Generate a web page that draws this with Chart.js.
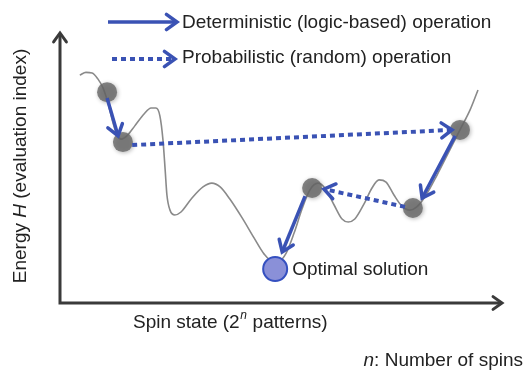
<!DOCTYPE html>
<html>
<head>
<meta charset="utf-8">
<script src="https://cdn.jsdelivr.net/npm/chart.js@4.4.0/dist/chart.umd.min.js"></script>
<style>
  html, body { margin: 0; padding: 0; background: #fff; }
</style>
</head>
<body>
<canvas id="landscape" width="531" height="372"></canvas>
<script>
// エネルギー地形 (スピン状態 0-100, エネルギー 0-100)
const landscapeX = [4.5, 5.9, 7.3, 8.6, 9.8, 10.9, 12.0, 12.95, 13.9, 15.2, 17.0, 19.1, 20.7, 21.8, 22.7, 23.4, 23.9, 24.3, 25.0, 26.1, 27.5, 30.0, 32.5, 34.5, 36.4, 38.6, 41.4, 44.1, 46.4, 48.2, 49.8, 51.4, 53.2, 55.0, 56.8, 58.6, 60.2, 62.3, 64.1, 65.5, 67.0, 69.1, 70.9, 72.5, 74.1, 75.9, 77.7, 79.5, 81.1, 83.2, 85.7, 88.6, 90.9, 93.2, 95.0];
const landscapeY = [84.4, 85.4, 85.2, 83.0, 79.6, 74.1, 67.0, 62.2, 60.7, 61.9, 65.6, 70.0, 72.2, 72.2, 69.3, 60.4, 49.3, 40.0, 34.4, 32.6, 33.7, 38.9, 43.0, 44.4, 43.0, 38.5, 31.5, 24.1, 18.1, 15.6, 15.6, 18.5, 25.9, 34.8, 41.9, 44.4, 42.6, 36.3, 31.1, 30.0, 31.1, 36.7, 42.6, 45.6, 44.8, 40.0, 35.9, 34.4, 35.6, 40.0, 47.4, 56.7, 64.1, 71.5, 78.9];

// 探索途中の状態 (灰色の点)
const stateX = [10.7, 14.3, 90.9, 80.2, 57.3];
const stateY = [78.1, 59.6, 64.1, 35.2, 42.6];

// 最適解
const optimalX = [48.9];
const optimalY = [12.6];

// 決定論的な遷移 (実線の矢印)
const detFromX = [10.7, 89.8, 55.7];
const detFromY = [75.9, 61.9, 39.6];
const detToX = [13.2, 82.3, 50.5];
const detToY = [61.9, 38.9, 18.9];

// 確率的な遷移 (点線の矢印)
const probFromX = [16.4, 78.4];
const probFromY = [58.5, 35.6];
const probToX = [89.1, 60.0];
const probToY = [64.1, 42.2];

const legendLabels = ['Deterministic (logic-based) operation', 'Probabilistic (random) operation'];

const BLUE = '#3a52b4';
const FONT = '"Liberation Sans", Arial, sans-serif';
const FS = 19;

function pts(xs, ys) {
  return xs.map((x, i) => ({ x: x, y: ys[i] }));
}

// 矢印のデータセットを作る
const arrowSets = [];
detFromX.forEach((x, i) => {
  arrowSets.push({
    data: [{ x: x, y: detFromY[i] }, { x: detToX[i], y: detToY[i] }],
    showLine: true, borderColor: BLUE, borderWidth: 3.5, pointRadius: 0,
    arrow: 'solid'
  });
});
probFromX.forEach((x, i) => {
  arrowSets.push({
    data: [{ x: x, y: probFromY[i] }, { x: probToX[i], y: probToY[i] }],
    showLine: true, borderColor: BLUE, borderWidth: 4, borderDash: [5, 4], pointRadius: 0,
    arrow: 'dotted'
  });
});

// 矢じり (V字)
function chevron(ctx, x, y, ang, len, color, width) {
  const h = 0.62;
  ctx.save();
  ctx.strokeStyle = color;
  ctx.lineWidth = width;
  ctx.lineCap = 'round';
  ctx.lineJoin = 'miter';
  ctx.setLineDash([]);
  ctx.beginPath();
  ctx.moveTo(x - len * Math.cos(ang - h), y - len * Math.sin(ang - h));
  ctx.lineTo(x, y);
  ctx.lineTo(x - len * Math.cos(ang + h), y - len * Math.sin(ang + h));
  ctx.stroke();
  ctx.restore();
}

// 軸・ラベル・凡例を描くプラグイン
const decorPlugin = {
  id: 'decor',
  beforeDatasetsDraw(chart) {
    const ctx = chart.ctx;
    const a = chart.chartArea;
    ctx.save();
    ctx.strokeStyle = '#3a3a3a';
    ctx.lineWidth = 3;
    ctx.lineCap = 'butt';
    ctx.beginPath();
    ctx.moveTo(a.left, a.top + 1);
    ctx.lineTo(a.left, a.bottom);
    ctx.lineTo(a.right + 1, a.bottom);
    ctx.stroke();
    ctx.restore();
    chevron(ctx, a.left, a.top, -Math.PI / 2, 11, '#3a3a3a', 3);
    chevron(ctx, a.right + 2, a.bottom, 0, 11, '#3a3a3a', 3);

    ctx.save();
    ctx.fillStyle = '#222';
    ctx.textBaseline = 'middle';
    // 縦軸タイトル
    const yParts = [['Energy ', ''], ['H', 'italic '], [' (evaluation index)', '']];
    ctx.translate(21, 166);
    ctx.rotate(-Math.PI / 2);
    let total = 0;
    yParts.forEach(p => { ctx.font = p[1] + FS + 'px ' + FONT; total += ctx.measureText(p[0]).width; });
    let cx = -total / 2;
    yParts.forEach(p => {
      ctx.font = p[1] + FS + 'px ' + FONT;
      ctx.fillText(p[0], cx, 0);
      cx += ctx.measureText(p[0]).width;
    });
    ctx.restore();

    ctx.save();
    ctx.fillStyle = '#222';
    ctx.textBaseline = 'middle';
    // 横軸タイトル
    let tx = 133;
    const ty = a.bottom + 20;
    ctx.font = FS + 'px ' + FONT;
    ctx.fillText('Spin state (2', tx, ty);
    tx += ctx.measureText('Spin state (2').width;
    ctx.font = 'italic 12px ' + FONT;
    ctx.fillText('n', tx + 0.5, ty - 7);
    tx += ctx.measureText('n').width + 1;
    ctx.font = FS + 'px ' + FONT;
    ctx.fillText(' patterns)', tx, ty);

    // 注記
    ctx.font = FS + 'px ' + FONT;
    const note = ': Number of spins';
    const nw = ctx.measureText(note).width;
    ctx.font = 'italic ' + FS + 'px ' + FONT;
    const iw = ctx.measureText('n').width;
    const nx = 523 - nw - iw;
    ctx.fillText('n', nx, 361);
    ctx.font = FS + 'px ' + FONT;
    ctx.fillText(note, nx + iw, 361);

    // 最適解ラベル
    const op = chart.getDatasetMeta(chart.data.datasets.length - 2).data[0];
    ctx.fillText('Optimal solution', op.x + 17, op.y + 1);

    // 凡例
    ctx.fillText(legendLabels[0], 182, 23);
    ctx.fillText(legendLabels[1], 182, 58);
    ctx.restore();

    ctx.save();
    ctx.strokeStyle = BLUE;
    ctx.lineWidth = 3.5;
    ctx.beginPath();
    ctx.moveTo(108, 22);
    ctx.lineTo(175, 22);
    ctx.stroke();
    ctx.lineWidth = 4;
    ctx.setLineDash([5, 4]);
    ctx.beginPath();
    ctx.moveTo(112, 59);
    ctx.lineTo(172, 59);
    ctx.stroke();
    ctx.restore();
    chevron(ctx, 177, 22, 0, 13, BLUE, 3.5);
    chevron(ctx, 175, 59, 0, 13, BLUE, 3.5);
  },
  beforeDatasetDraw(chart, args) {
    const ds = chart.data.datasets[args.index];
    if (ds.shadow) {
      chart.ctx.save();
      chart.ctx.shadowColor = 'rgba(0,0,0,0.35)';
      chart.ctx.shadowBlur = 4;
      chart.ctx.shadowOffsetX = 1;
      chart.ctx.shadowOffsetY = 1;
    }
  },
  afterDatasetDraw(chart, args) {
    const ds = chart.data.datasets[args.index];
    if (ds.shadow) chart.ctx.restore();
  },
  afterDatasetsDraw(chart) {
    const ctx = chart.ctx;
    chart.data.datasets.forEach((ds, i) => {
      if (!ds.arrow) return;
      const d = chart.getDatasetMeta(i).data;
      const ang = Math.atan2(d[1].y - d[0].y, d[1].x - d[0].x);
      chevron(ctx, d[1].x, d[1].y, ang, 13, BLUE, 3.5);
    });
  }
};

const ctx = document.getElementById('landscape').getContext('2d');
const landscapeChart = new Chart(ctx, {
  type: 'scatter',
  data: {
    datasets: arrowSets.concat([
      {
        data: pts(stateX, stateY),
        pointRadius: 10, pointHoverRadius: 10,
        backgroundColor: 'rgba(105,105,105,0.82)', borderWidth: 0,
        shadow: true
      },
      {
        data: pts(optimalX, optimalY),
        pointRadius: 12, pointHoverRadius: 12,
        backgroundColor: '#8a90d8', borderColor: '#3550c0', borderWidth: 2
      },
      {
        data: pts(landscapeX, landscapeY),
        showLine: true, cubicInterpolationMode: 'monotone',
        borderColor: '#8a8a8a', borderWidth: 1.6, pointRadius: 0
      }
    ])
  },
  options: {
    responsive: false,
    animation: false,
    layout: { padding: { left: 60, top: 33, right: 31, bottom: 69 } },
    plugins: { legend: { display: false }, tooltip: { enabled: false } },
    scales: {
      x: { type: 'linear', min: 0, max: 100, display: false },
      y: { type: 'linear', min: 0, max: 100, display: false }
    }
  },
  plugins: [decorPlugin]
});
</script>
</body>
</html>
